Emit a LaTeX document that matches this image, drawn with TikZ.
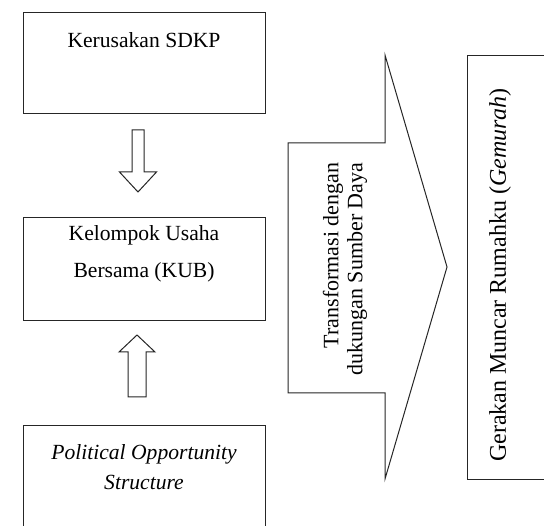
\documentclass[tikz,border=0pt]{standalone}
\usepackage{fontspec}
\setmainfont{Liberation Serif}
\usetikzlibrary{positioning}

\tikzset{
    box/.style={draw=black!85, line width=1pt, minimum width=242pt, anchor=north west, inner sep=0pt},
    hollow/.style={draw=black!85, line width=1pt, line join=miter, fill=white},
    boxtext/.style={font=\fontsize{21.6}{30}\selectfont, align=center, inner sep=0pt},
    sidetext/.style={font=\fontsize{24}{24}\selectfont, rotate=90, inner sep=0pt}
}

\begin{document}
\begin{tikzpicture}[x=1pt, y=-1pt]
        \useasboundingbox (0,0) rectangle (544,526);
        \clip (0,0) rectangle (544,526);

        % Boxes on the left
        \node[box, minimum height=101pt] (kerusakan) at (23,12) {};
        \node[box, minimum height=103pt] (kub) at (23,217) {};
        \node[box, minimum height=120pt] (pos) at (23,425) {};

        % Box on the right
        \node[box, minimum width=110pt, minimum height=424pt] (gemurah) at (467,55) {};

        % Texts inside the boxes
        \node[boxtext] (kerusakantext) at (144,40) {Kerusakan SDKP};
        \node[boxtext, font=\fontsize{21.6}{37}\selectfont] (kubtext) at (144,254) {Kelompok Usaha\\Bersama (KUB)};
        \node[boxtext, font=\fontsize{21.6}{30}\selectfont\itshape] (postext) at (144,467) {Political Opportunity\\Structure};
        \node[sidetext] (gemurahtext) at (500,275) {Gerakan Muncar Rumahku (\textit{Gemurah})};

        % Arrow down: Kerusakan SDKP to KUB
        \coordinate (downstart) at (138,130);
        \draw[hollow] (downstart) ++(-6,0) -- ++(12,0) -- ++(0,42) -- ++(12.5,0)
            -- ++(-18.5,20) -- ++(-18.5,-20) -- ++(12.5,0) -- cycle;

        % Arrow up: Political Opportunity Structure to KUB
        \coordinate (upstart) at (137,397);
        \draw[hollow] (upstart) ++(-9,0) -- ++(18,0) -- ++(0,-45) -- ++(9,0)
            -- ++(-18,-17) -- ++(-18,17) -- ++(9,0) -- cycle;

        % Big arrow towards Gemurah
        \coordinate (bigstart) at (288,143);
        \draw[hollow] (bigstart) -- (385,143) -- (385,55) -- (447,267) -- (385,479)
            -- (385,393) -- (288,393) -- cycle;
        \node[sidetext, align=right, font=\fontsize{22}{24}\selectfont] (transformasi) at (345,269)
            {Transformasi dengan\\dukungan Sumber Daya};
    \end{tikzpicture}
\end{document}
